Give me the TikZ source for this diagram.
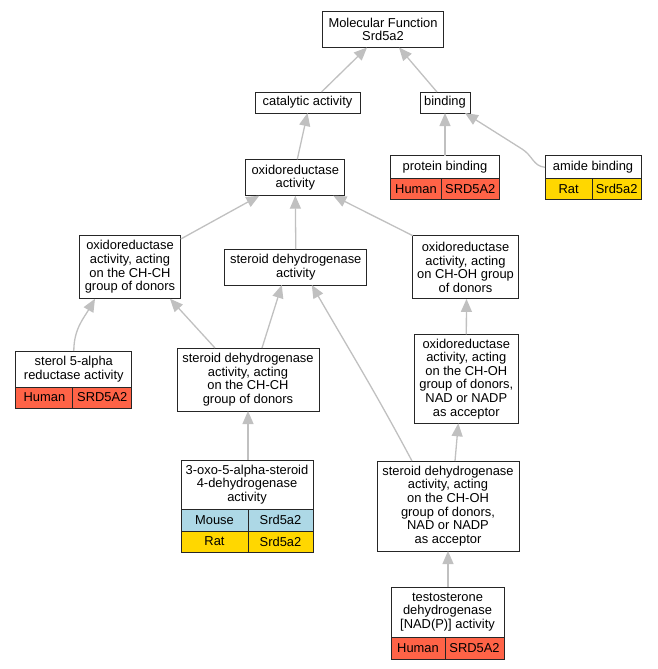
\documentclass[tikz,border=0pt]{standalone}
\usepackage{fontspec}
\setmainfont{Liberation Sans}
\usetikzlibrary{arrows.meta}
\definecolor{human}{HTML}{FF6347}
\definecolor{mouse}{HTML}{ADD8E6}
\definecolor{rat}{HTML}{FFD700}
\definecolor{edgegray}{HTML}{C0C0C0}
\begin{document}
\begin{tikzpicture}
[x=1pt,y=-1pt,
 every node/.style={font=\fontsize{12.9}{13.6}\selectfont,inner sep=0pt,outer sep=0pt},
 term/.style={draw=black!85,line width=1pt,fill=white,align=center},
 cell/.style={draw=black!85,line width=1pt,anchor=north west,minimum height=22pt},
 edge/.style={draw=edgegray,line width=1.3pt,-{Triangle[length=13pt,width=11pt]}}]
\useasboundingbox (0,0) rectangle (657,669);
% terms
\node[term,minimum width=121pt,minimum height=36pt] (mf) at (383,29.5) {Molecular Function\\Srd5a2};
\node[term,minimum width=105pt,minimum height=21pt] (cat) at (307.5,102.5) {catalytic activity};
\node[term,minimum width=50pt,minimum height=21pt] (bind) at (445,102.5) {binding};
\node[term,minimum width=108.6pt,minimum height=23pt] (pb) at (445,167.3) {protein binding};
\node[term,minimum width=96pt,minimum height=23pt] (ab) at (593,167.3) {amide binding};
\node[term,minimum width=99.3pt,minimum height=36.4pt] (ox) at (295.3,177.5) {oxidoreductase\\activity};
\node[term,minimum width=101.4pt,minimum height=63.7pt] (chch) at (130,266.9) {oxidoreductase\\activity, acting\\on the CH-CH\\group of donors};
\node[term,minimum width=141.7pt,minimum height=36pt] (sd) at (295.8,267) {steroid dehydrogenase\\activity};
\node[term,minimum width=105.6pt,minimum height=63.3pt] (choh) at (465.5,267.3) {oxidoreductase\\activity, acting\\on CH-OH group\\of donors};
\node[term,minimum width=115.7pt,minimum height=36pt] (sl) at (73.8,369) {sterol 5-alpha\\reductase activity};
\node[term,minimum width=142pt,minimum height=63pt] (sdchch) at (248,379.5) {steroid dehydrogenase\\activity, acting\\on the CH-CH\\group of donors};
\node[term,minimum width=104pt,minimum height=89pt] (chohnad) at (466.3,378.8) {oxidoreductase\\activity, acting\\on the CH-OH\\group of donors,\\NAD or NADP\\as acceptor};
\node[term,minimum width=132pt,minimum height=49pt] (oxo) at (247,484.5) {3-oxo-5-alpha-steroid\\4-dehydrogenase\\activity};
\node[term,minimum width=142pt,minimum height=90pt] (sdchoh) at (448,506) {steroid dehydrogenase\\activity, acting\\on the CH-OH\\group of donors,\\NAD or NADP\\as acceptor};
\node[term,minimum width=113pt,minimum height=50pt] (tes) at (447.5,612) {testosterone\\dehydrogenase\\{[NAD(P)]} activity};
% species and gene cells
\node[cell,fill=human,minimum width=50.6pt,minimum height=21pt] (pbsp) at (pb.south west) {Human};
\node[cell,fill=human,minimum width=58pt,minimum height=21pt] (pbgn) at (pbsp.north east) {SRD5A2};
\node[cell,fill=rat,minimum width=47.3pt,minimum height=21pt] (absp) at (ab.south west) {Rat};
\node[cell,fill=rat,minimum width=48.7pt,minimum height=21pt] (abgn) at (absp.north east) {Srd5a2};
\node[cell,fill=human,minimum width=57pt,minimum height=21pt] (slsp) at (sl.south west) {Human};
\node[cell,fill=human,minimum width=58.7pt,minimum height=21pt] (slgn) at (slsp.north east) {SRD5A2};
\node[cell,fill=mouse,minimum width=67pt] (oxosp) at (oxo.south west) {Mouse};
\node[cell,fill=mouse,minimum width=65pt] (oxogn) at (oxosp.north east) {Srd5a2};
\node[cell,fill=rat,minimum width=67pt,minimum height=21pt] (oxosp2) at (oxosp.south west) {Rat};
\node[cell,fill=rat,minimum width=65pt,minimum height=21pt] (oxogn2) at (oxosp2.north east) {Srd5a2};
\node[cell,fill=human,minimum width=54pt] (tessp) at (tes.south west) {Human};
\node[cell,fill=human,minimum width=59pt] (tesgn) at (tessp.north east) {SRD5A2};
% edges
\foreach \from/\fx/\to/\tx in {cat/14/mf/-16,bind/-8/mf/16,ox/2/cat/0,pb/0/bind/0,sd/0/ox/0,sdchch/-33/chch/40,sdchch/14/sd/-14,oxo/1/sdchch/0,chohnad/0/choh/1,sdchoh/7/chohnad/-8,tes/0.5/sdchoh/0}
\draw[edge] ([xshift=\fx pt]\from.north) -- ([xshift=\tx pt]\to.south);
\draw[edge] ([yshift=-4pt]chch.north east) -- ([xshift=-36pt]ox.south);
\draw[edge] (choh.north west) -- ([xshift=38pt]ox.south);
\draw[edge] (ab.west) .. controls (533,166) and (533,156) .. (522,149) -- ([xshift=20pt]bind.south);
\draw[edge] (sl.north) to[out=90,in=-120] ([xshift=-35pt]chch.south);
\draw[edge] ([xshift=-36pt]sdchoh.north) to[out=118,in=-60] ([xshift=16pt]sd.south);
\end{tikzpicture}
\end{document}
